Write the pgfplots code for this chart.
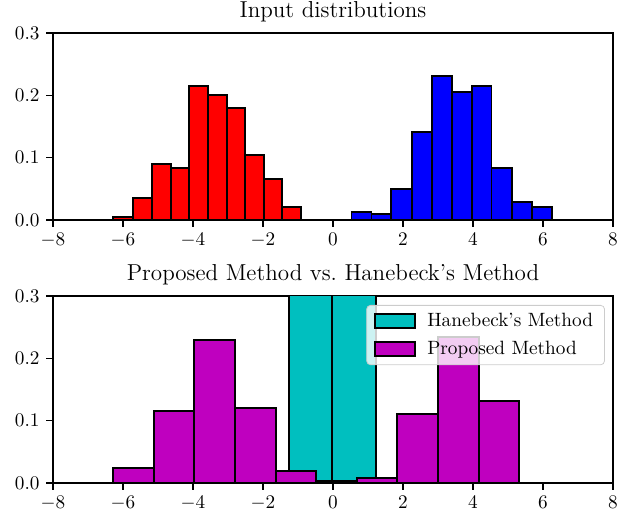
\documentclass[border=0pt]{standalone}
\usepackage{pgfplots}
\pgfplotsset{compat=1.18}
\definecolor{mplc}{rgb}{0,0.75,0.75}
\definecolor{mplm}{rgb}{0.75,0,0.75}
\pgfplotsset{
  histaxis/.style={
    width=291.2pt, height=97.2pt, scale only axis,
    xmin=-8, xmax=8, ymin=0, ymax=0.3,
    xtick={-8,-6,-4,-2,0,2,4,6,8},
    ytick={0,0.1,0.2,0.3},
    yticklabel style={/pgf/number format/.cd, fixed, fixed zerofill, precision=1},
    tick pos=left, tick align=outside,
    major tick length=3.5pt,
    axis line style={line width=0.8pt},
    every tick/.style={black, line width=0.8pt},
    title style={font=\large, yshift=-4pt},
  },
  histbar/.style={ybar interval, draw=black, line width=1pt, fill=#1,
    legend image code/.code={\draw[sharp corners, draw=black, line width=1pt, fill=#1, fill opacity=1] (0pt,-3.5pt) rectangle (20.5pt,3.5pt);}},
}
\begin{document}
\begin{tikzpicture}
\path[use as bounding box] (-27.56pt,17.16pt) rectangle (301.6pt,-249.1pt);
\begin{axis}[histaxis, at={(0,0)}, anchor=north west, title={Input distributions}]
\addplot[histbar=red] coordinates {
(-6.28,0.0053) (-5.72,0.0348) (-5.18,0.0899) (-4.64,0.0840) (-4.11,0.2146)
(-3.57,0.2010) (-3.04,0.1800) (-2.51,0.1040) (-1.97,0.0663) (-1.45,0.0214) (-0.92,0.0214)};
\addplot[histbar=blue] coordinates {
(0.53,0.0133) (1.10,0.0096) (1.67,0.0502) (2.25,0.1408) (2.82,0.2306)
(3.39,0.2055) (3.96,0.2146) (4.53,0.0840) (5.11,0.0289) (5.68,0.0209) (6.25,0.0209)};
\end{axis}
\begin{axis}[histaxis, at={(0,-136.76pt)}, anchor=north west,
  title={Proposed Method vs.\ Hanebeck's Method},
  legend style={at={(0.9856,0.952)}, anchor=north east, fill=white, fill opacity=0.8,
    draw=black!20, draw opacity=1, text opacity=1, rounded corners=2pt,
    inner xsep=4pt, inner ysep=2pt, row sep=2pt, column sep=4pt, font=\normalsize},
  legend cell align=left]
\addplot[histbar=mplc] coordinates {
(-6.22,0) (-4.98,0) (-3.74,0) (-2.50,0) (-1.26,0.40) (-0.02,0.40)
(1.22,0) (2.46,0) (3.70,0) (4.94,0) (6.18,0)};
\addlegendentry{Hanebeck's Method}
\addplot[histbar=mplm] coordinates {
(-6.28,0.0240) (-5.12,0.1150) (-3.96,0.2300) (-2.80,0.1196) (-1.64,0.0193)
(-0.48,0.0037) (0.68,0.0080) (1.84,0.1100) (3.00,0.2345) (4.16,0.1310) (5.32,0.1310)};
\addlegendentry{Proposed Method}
\end{axis}
\end{tikzpicture}
\end{document}
